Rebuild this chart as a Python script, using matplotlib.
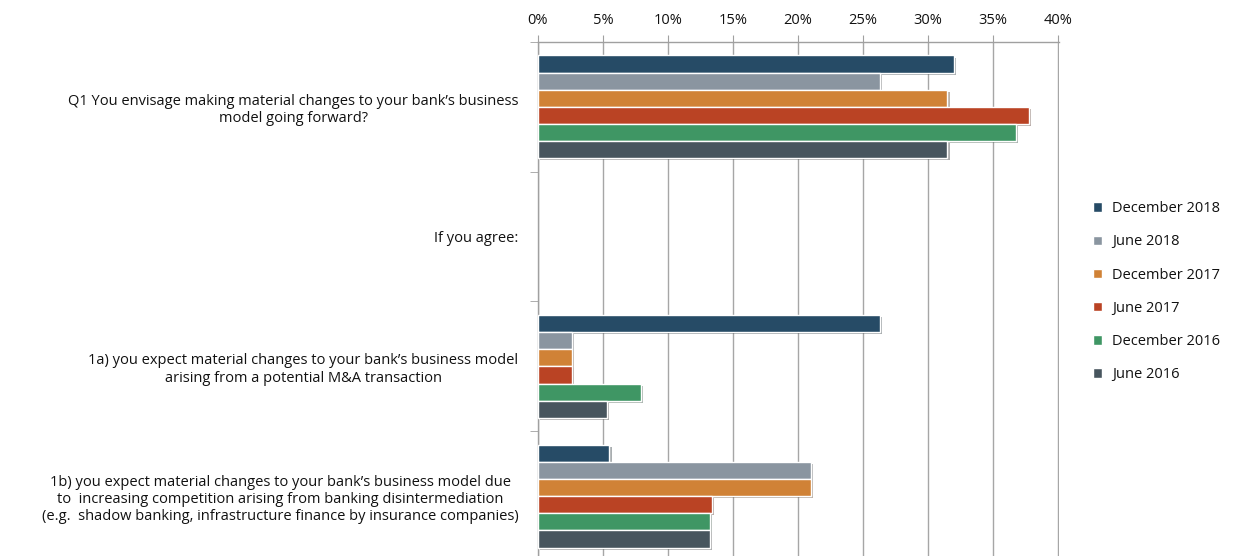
import numpy as np
import matplotlib
matplotlib.use("Agg")
import matplotlib.pyplot as plt
import matplotlib.patheffects as pe
from matplotlib.patches import Patch
from matplotlib.ticker import FixedLocator, PercentFormatter

plt.rcParams["font.family"] = ["Open Sans", "DejaVu Sans"]

categories = [
    "Q1 You envisage making material changes to your bank\u2019s business\nmodel going forward?",
    "If you agree:",
    "1a) you expect material changes to your bank\u2019s business model\narising from a potential M&A transaction",
    "1b) you expect material changes to your bank\u2019s business model due\nto  increasing competition arising from banking disintermediation\n(e.g.  shadow banking, infrastructure finance by insurance companies)",
]
series = ["December 2018", "June 2018", "December 2017", "June 2017", "December 2016", "June 2016"]
dec_2018 = [32.0, None, 26.3, 5.5]
jun_2018 = [26.3, None, 2.6, 21.0]
dec_2017 = [31.5, None, 2.6, 21.0]
jun_2017 = [37.8, None, 2.6, 13.4]
dec_2016 = [36.8, None, 7.9, 13.2]
jun_2016 = [31.5, None, 5.3, 13.2]
colors = ["#264b66", "#8a95a0", "#d08236", "#ba4324", "#3f9664", "#47555e"]

values = [dec_2018, jun_2018, dec_2017, jun_2017, dec_2016, jun_2016]

fig = plt.figure(figsize=(12.44, 5.56), dpi=100)
ax = fig.add_axes([538 / 1244, 1 - 561 / 556, (1059 - 538) / 1244, (561 - 42) / 556])

y = np.arange(len(categories))
h = 0.132
shadow = [pe.SimplePatchShadow(offset=(1.5, -1.5), alpha=0.35), pe.Normal()]
for i, (vals, col, name) in enumerate(zip(values, colors, series)):
    v = np.array([np.nan if x is None else x for x in vals], dtype=float)
    bars = ax.barh(y + (i - 2.5) * h, v, height=h, color=col, edgecolor="white",
                   linewidth=1, label=name, zorder=3)
    for b in bars:
        b.set_path_effects(shadow)

ax.set_xlim(0, 40.08)
ax.set_ylim(len(categories) - 0.5, -0.5)
ax.xaxis.tick_top()
ax.set_xticks(np.arange(0, 41, 5))
ax.xaxis.set_major_formatter(PercentFormatter(decimals=0))
ax.tick_params(axis="x", which="major", length=5, color="#a0a0a0", pad=5,
               labelsize=10.5, labelcolor="#111111")
ax.grid(axis="x", color="#a6a6a6", linewidth=1, zorder=0)

ax.set_yticks(y)
ax.set_yticklabels(categories, ha="right", multialignment="center")
ax.yaxis.set_minor_locator(FixedLocator(np.arange(-0.5, len(categories), 1.0)))
ax.tick_params(axis="y", which="major", length=0, pad=14, labelsize=10.5, labelcolor="#111111")
ax.tick_params(axis="y", which="minor", length=6, color="#a0a0a0")

for s in ["right", "bottom"]:
    ax.spines[s].set_visible(False)
for s in ["top", "left"]:
    ax.spines[s].set_color("#a0a0a0")
    ax.spines[s].set_linewidth(1)

handles = [Patch(facecolor=c, edgecolor="white", label=n) for c, n in zip(colors, series)]
fig.legend(handles=handles, loc="upper left", bbox_to_anchor=(1080 / 1244, 1 - 188 / 556),
           frameon=False, handlelength=0.6, handleheight=0.6, handletextpad=0.7,
           labelspacing=1.25, fontsize=10.5, labelcolor="#111111")

fig.savefig("out.png", dpi=100)
